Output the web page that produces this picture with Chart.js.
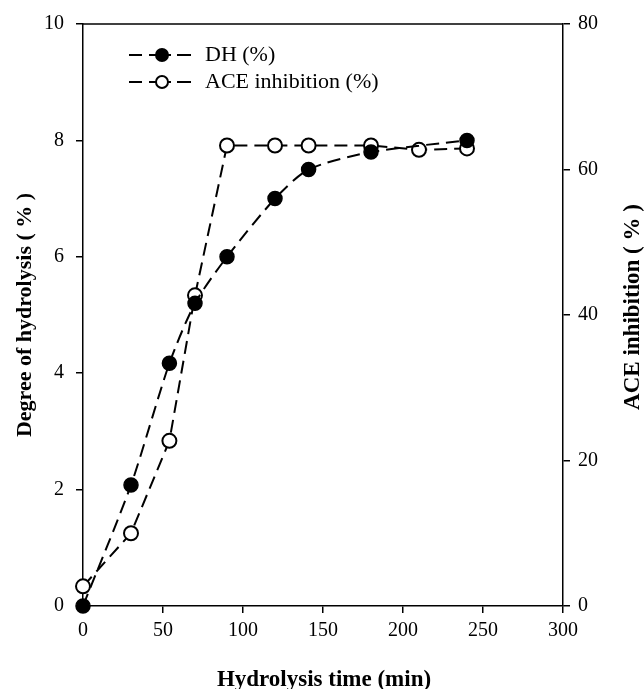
<!DOCTYPE html>
<html lang="en">
<head>
    <meta charset="UTF-8">
    <title>Degree of hydrolysis / ACE inhibition</title>
    <script src="https://cdn.jsdelivr.net/npm/chart.js"></script>
    <style>
        html, body { margin: 0; padding: 0; background: #fff; }
        #wrap { width: 644px; height: 689px; }
    </style>
</head>
<body>
<div id="wrap">
    <canvas id="myChart"></canvas>
</div>
<script>
    // data
    const dhTimes = [0, 30, 54, 70, 90, 120, 141, 180, 240];
    const dhValues = [0, 2.08, 4.17, 5.2, 6.0, 7.0, 7.5, 7.8, 8.0];
    const aceTimes = [0, 30, 54, 70, 90, 120, 141, 180, 210, 240];
    const aceValues = [2.7, 10.0, 22.7, 42.7, 63.3, 63.3, 63.3, 63.3, 62.7, 62.9];
    const xTicks = [0, 50, 100, 150, 200, 250, 300];
    const dhTicks = [0, 2, 4, 6, 8, 10];
    const aceTicks = [0, 20, 40, 60, 80];
    const xTitle = 'Hydrolysis time (min)';
    const leftTitle = 'Degree of hydrolysis ( % )';
    const rightTitle = 'ACE inhibition ( % )';

    const serif = 'Liberation Serif';
    const tickFont = { family: serif, size: 20 };

    const toPoints = (xs, ys) => xs.map((x, i) => ({ x: x, y: ys[i] }));

    function drawText(ctx, text, x, y, angle, font, baseline) {
        ctx.save();
        ctx.translate(x, y);
        ctx.rotate(angle);
        ctx.fillStyle = '#000';
        ctx.font = font;
        ctx.textAlign = 'center';
        ctx.textBaseline = baseline || 'middle';
        ctx.fillText(text, 0, 0);
        ctx.restore();
    }

    // top frame line, axis titles and legend
    const framePlugin = {
        id: 'frame',
        afterDraw(chart) {
            const { ctx, chartArea: a } = chart;
            ctx.save();
            ctx.strokeStyle = '#000';
            ctx.lineWidth = 1.5;
            ctx.beginPath();
            ctx.moveTo(a.left, a.top);
            ctx.lineTo(a.right, a.top);
            ctx.stroke();

            const midX = (a.left + a.right) / 2;
            const midY = (a.top + a.bottom) / 2;
            drawText(ctx, xTitle, midX + 1, 686, 0, 'bold 23px "' + serif + '"', 'alphabetic');
            drawText(ctx, leftTitle, 25, midY, -Math.PI / 2, 'bold 22px "' + serif + '"');
            drawText(ctx, rightTitle, 633, midY - 8, -Math.PI / 2, 'bold 23px "' + serif + '"');

            // legend
            const rows = [55, 82];
            chart.data.datasets.forEach((ds, i) => {
                const y = rows[i];
                ctx.setLineDash([]);
                ctx.lineWidth = 2;
                ctx.strokeStyle = '#000';
                ctx.beginPath();
                ctx.moveTo(129, y); ctx.lineTo(142, y);
                ctx.moveTo(177, y); ctx.lineTo(191, y);
                ctx.moveTo(149, y); ctx.lineTo(171, y);
                ctx.stroke();
                ctx.beginPath();
                ctx.arc(162, y, 6, 0, Math.PI * 2);
                ctx.fillStyle = ds.pointBackgroundColor;
                ctx.fill();
                ctx.stroke();
                ctx.fillStyle = '#000';
                ctx.font = '22px "' + serif + '"';
                ctx.textBaseline = 'middle';
                ctx.textAlign = 'left';
                ctx.fillText(ds.label, 205, y);
            });
            ctx.restore();
        }
    };

    const ctx = document.querySelector('#myChart');
    new Chart(ctx, {
        type: 'line',
        data: {
            datasets: [
                {
                    label: 'DH (%)',
                    data: toPoints(dhTimes, dhValues),
                    yAxisID: 'y',
                    borderColor: '#000',
                    borderWidth: 2,
                    borderDash: [13, 7],
                    tension: 0.25,
                    pointRadius: 7,
                    pointBackgroundColor: '#000',
                    pointBorderColor: '#000',
                    pointBorderWidth: 1.5,
                    clip: false
                },
                {
                    label: 'ACE inhibition (%)',
                    data: toPoints(aceTimes, aceValues),
                    yAxisID: 'y2',
                    borderColor: '#000',
                    borderWidth: 2,
                    borderDash: [13, 7],
                    tension: 0,
                    pointRadius: 7,
                    pointBackgroundColor: '#fff',
                    pointBorderColor: '#000',
                    pointBorderWidth: 2,
                    clip: false
                }
            ]
        },
        options: {
            responsive: true,
            maintainAspectRatio: false,
            animation: false,
            layout: { padding: { top: 20, left: 0, right: 0, bottom: 0 } },
            plugins: {
                legend: { display: false },
                tooltip: { enabled: false }
            },
            scales: {
                x: {
                    type: 'linear',
                    min: 0,
                    max: 300,
                    afterFit: s => { s.height = 83; },
                    afterBuildTicks: s => { s.ticks = xTicks.map(v => ({ value: v })); },
                    border: { display: true, color: '#000', width: 1.5 },
                    grid: { drawOnChartArea: false, drawTicks: true, tickLength: 7, color: '#000', lineWidth: 1.5 },
                    ticks: { color: '#000', font: tickFont, padding: 6, maxRotation: 0 },
                    title: { display: false }
                },
                y: {
                    position: 'left',
                    min: 0,
                    max: 10,
                    afterFit: s => { s.width = 83; },
                    afterBuildTicks: s => { s.ticks = dhTicks.map(v => ({ value: v })); },
                    border: { display: true, color: '#000', width: 1.5 },
                    grid: { drawOnChartArea: false, drawTicks: true, tickLength: 7, color: '#000', lineWidth: 1.5 },
                    ticks: { color: '#000', font: tickFont, padding: 12 },
                    title: { display: false }
                },
                y2: {
                    position: 'right',
                    min: 0,
                    max: 80,
                    afterFit: s => { s.width = 81; },
                    afterBuildTicks: s => { s.ticks = aceTicks.map(v => ({ value: v })); },
                    border: { display: true, color: '#000', width: 1.5 },
                    grid: { drawOnChartArea: false, drawTicks: true, tickLength: 7, color: '#000', lineWidth: 1.5 },
                    ticks: { color: '#000', font: tickFont, padding: 8 },
                    title: { display: false }
                }
            }
        },
        plugins: [framePlugin]
    });
</script>
</body>
</html>
